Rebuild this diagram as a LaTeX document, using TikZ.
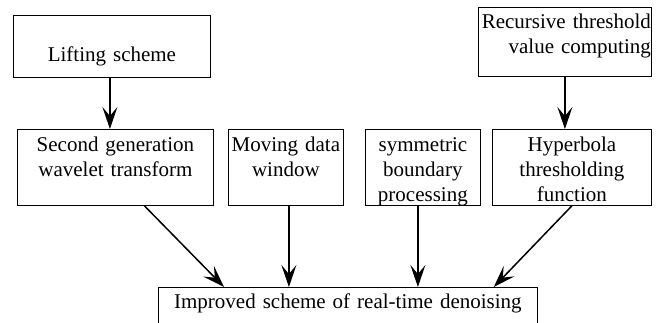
\documentclass[tikz,border=0pt]{standalone}
\usepackage{fontspec}
\setmainfont{Liberation Serif}
\usetikzlibrary{arrows.meta}
\begin{document}
\begin{tikzpicture}[x = 1pt, y = -1pt,
    box/.style = {draw, line width = 0.8pt, inner sep = 0pt, anchor = north west,
                  align = center, font = \fontsize{21}{25}\selectfont},
    flow/.style = {-{Stealth[length = 22pt, width = 15pt, inset = 9pt]}, line width = 1.5pt}]
  \useasboundingbox (0, 0) rectangle (658, 323);
  % top row
  \node (lift) at (13, 15) [box, text width = 197pt, text height = 46pt, text depth = 16pt] {Lifting scheme};
  \node (rec) at (478, 7) [box, align = right, inner xsep = 0.5pt, text width = 172pt,
                           text height = 21pt, text depth = 48pt] {Recursive threshold\\value computing};
  % middle row
  \node (sec) at (17, 129) [box, text width = 196pt, text height = 22pt, text depth = 54pt] {Second generation\\wavelet transform};
  \node (mov) at (228, 129) [box, text width = 115pt, text height = 22pt, text depth = 54pt] {Moving data\\window};
  \node (sym) at (365, 129) [box, text width = 115pt, text height = 22pt, text depth = 54pt] {symmetric\\boundary\\processing};
  \node (hyp) at (492, 129) [box, text width = 159pt, text height = 22pt, text depth = 54pt] {Hyperbola\\thresholding\\function};
  % bottom
  \node (imp) at (158, 287) [box, text width = 379pt, text height = 21pt, text depth = 45pt] {Improved scheme of real-time denoising};
  % arrows
  \draw [flow] ([xshift = -2pt] lift.south) -- ([xshift = -2pt] lift.south |- sec.north);
  \draw [flow] (rec.south) -- (rec.south |- hyp.north);
  \draw [flow] ([xshift = 29pt] sec.south) -- ([xshift = 66pt] imp.north west);
  \draw [flow] ([xshift = 3pt] mov.south) -- ([xshift = 3pt] mov.south |- imp.north);
  \draw [flow] ([xshift = -5pt] sym.south) -- ([xshift = -5pt] sym.south |- imp.north);
  \draw [flow] (hyp.south) -- ([xshift = -44pt] imp.north east);
\end{tikzpicture}
\end{document}
